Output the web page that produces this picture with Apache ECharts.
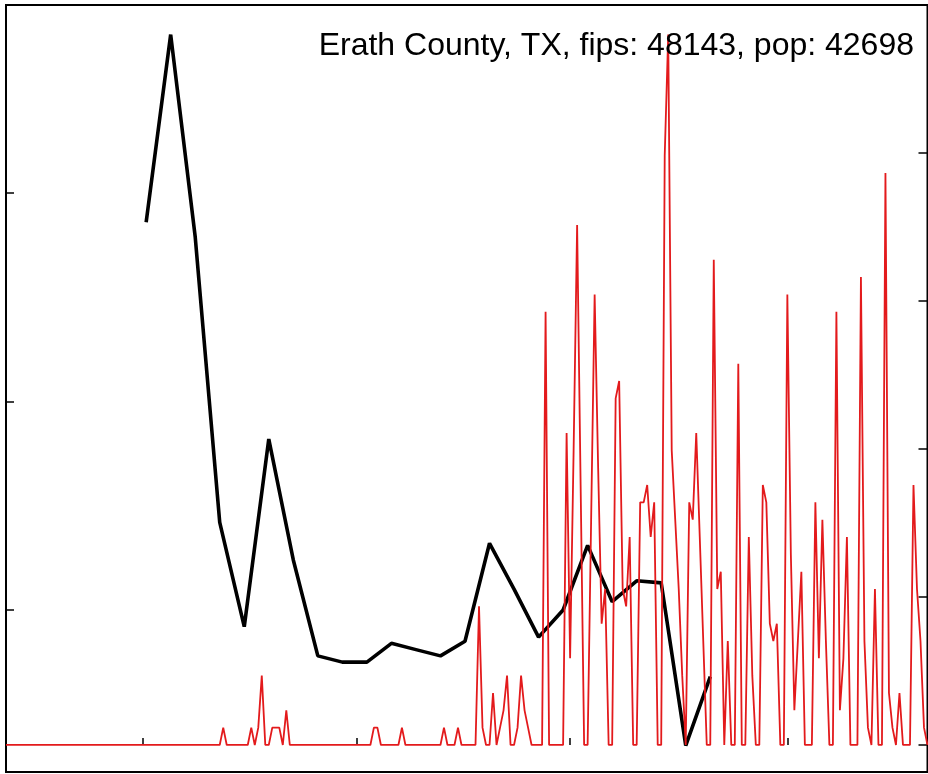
<!DOCTYPE html>
<html>
<head>
<meta charset="utf-8">
<script src="https://cdn.jsdelivr.net/npm/echarts@6/dist/echarts.min.js"></script>
<style>
html,body{margin:0;padding:0;background:#fff;}
#chart{width:928px;height:774px;}
</style>
</head>
<body>
<div id="chart"></div>
<script>
// ---- data ----
const titleText = "Erath County, TX, fips: 48143, pop: 42698";
const population = 42698;
// daily new cases, one per day starting 2020-01-22 (day 0)
const dailyCases = [
  0,0,0,0,0,0,0,0,0,0, 0,0,0,0,0,0,0,0,0,0, 0,0,0,0,0,0,0,0,0,0,
  0,0,0,0,0,0,0,0,0,0, 0,0,0,0,0,0,0,0,0,0, 0,0,0,0,0,0,0,0,0,0,
  0,0,1,0,0,0,0,0,0,0, 1,0,1,4,0,0,1,1,1,0, 2,0,0,0,0,0,0,0,0,0,
  0,0,0,0,0,0,0,0,0,0, 0,0,0,0,0,1,1,0,0,0, 0,0,0,1,0,0,0,0,0,0,
  0,0,0,0,0,1,0,0,0,1, 0,0,0,0,0,8,1,0,0,3, 0,1,2,4,0,0,1,4,2,1,
  0,0,0,0,25,0,0,0,0,0, 18,5,17,30,15,0,0,13,26,16, 7,9,0,0,20,21,9,8,12,0,
  0,14,14,15,12,14,0,0,34,41, 17,13,9,4,0,14,13,18,12,6, 0,0,28,9,10,0,6,0,0,22,
  0,0,12,4,0,0,15,14,7,6, 7,0,0,26,11,2,6,10,0,0, 0,14,5,13,6,0,0,25,2,5,
  12,0,0,0,27,6,1,0,9,0, 0,33,3,1,0,3,0,0,0,15, 9,6,1,0
];
// weekly series (black line), day index of each weekly point and its value
const weekDays = [40,47,54,61,68,75,82,89,96,103,110,117,124,131,138,145,152,159,166,173,180,187,194,201];
const weeklyValues = [2.86,3.76,2.79,1.42,0.92,1.82,1.24,0.78,0.75,0.75,0.84,0.81,0.78,0.85,1.32,1.10,0.87,1.00,1.31,1.04,1.14,1.13,0.35,0.68];
// tick positions
const xTickDays = [39,100,161,223];           // Mar 1, May 1, Jul 1, Sep 1 (2020)
const leftTicks = [1,2,3];
const rightTicksPer100k = [0,20,40,60,80];

// ---- build ----
const redData = dailyCases.map((v,i)=>[i,v]);
const blackData = weekDays.map((d,i)=>[d,weeklyValues[i]]);
const rightTickCases = rightTicksPer100k.map(v=>v*population/100000);

const chart = echarts.init(document.getElementById('chart'), null, {renderer:'canvas'});
chart.setOption({
  animation:false,
  backgroundColor:'#ffffff',
  grid:{left:6,right:0.5,top:5,bottom:2,show:true,borderColor:'#000',borderWidth:2,backgroundColor:'transparent'},
  xAxis:{
    type:'value',min:0,max:263,
    axisLine:{show:false},splitLine:{show:false},
    axisLabel:{show:false},
    axisTick:{show:true,inside:true,length:7,customValues:xTickDays,lineStyle:{color:'#000',width:1.5}}
  },
  yAxis:[
    {type:'value',position:'left',min:0.223,max:3.902,
     axisLine:{show:false},splitLine:{show:false},axisLabel:{show:false},
     axisTick:{show:true,inside:true,length:8,customValues:leftTicks,lineStyle:{color:'#000',width:1.5}}},
    {type:'value',position:'right',min:-1.56,max:42.7,
     axisLine:{show:false},splitLine:{show:false},axisLabel:{show:false},
     axisTick:{show:true,inside:true,length:9,customValues:rightTickCases,lineStyle:{color:'#000',width:1.5}}}
  ],
  series:[
    {type:'line',yAxisIndex:0,data:blackData,showSymbol:false,symbol:'none',
     lineStyle:{color:'#000',width:3.6},z:2},
    {type:'line',yAxisIndex:1,data:redData,showSymbol:false,symbol:'none',
     lineStyle:{color:'#e31a1c',width:1.8},z:3}
  ],
  graphic:[{
    type:'text',right:14,top:30,z:10,
    style:{text:titleText,fill:'#000',font:'32px "Liberation Sans", Arial, sans-serif'}
  }]
});
</script>
</body>
</html>
